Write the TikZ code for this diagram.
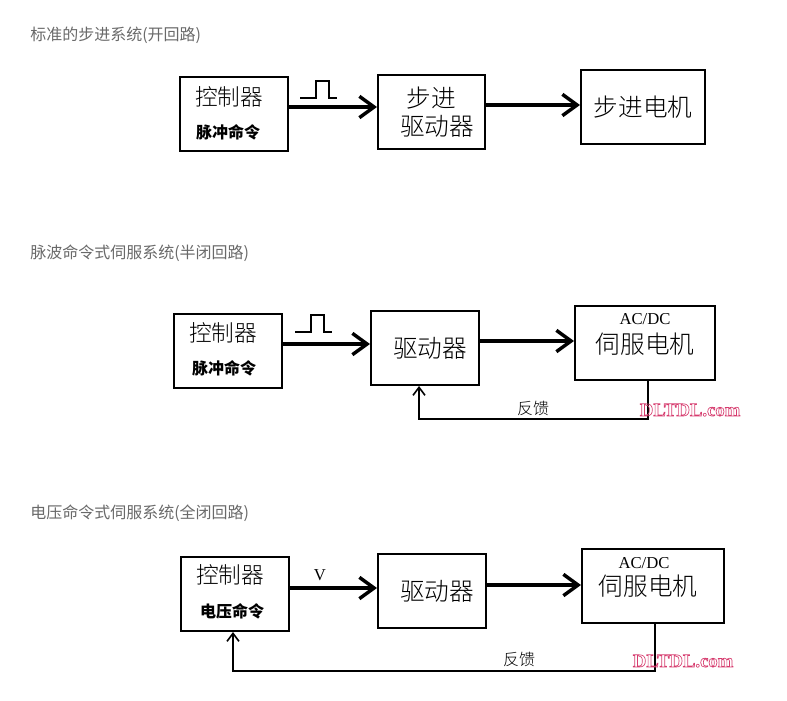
\documentclass[tikz,border=0pt]{standalone}
\usepackage{fontspec}
\usepackage{xcolor}
\usetikzlibrary{arrows.meta}
\setmainfont{Liberation Serif}
\newfontfamily\cjk{Noto Sans CJK SC}
\newfontfamily\cjklight{Noto Sans CJK SC Light}
\newfontfamily\wmfont{Liberation Serif}
\definecolor{mygrey}{RGB}{105,105,105}
\definecolor{mypink}{RGB}{214,60,110}
\newcommand{\hollow}[1]{\special{pdf:code 1 Tr 0.5 w}#1\special{pdf:code 0 Tr 1 w}}
\tikzset{
  block/.style={draw,line width=1.5pt,minimum width=#1,inner sep=0pt},
  flow/.style={line width=2.4pt,-{Straight Barb[length=11pt,width=16pt,line width=2.6pt]}},
  back/.style={line width=1.5pt,-{Straight Barb[length=6pt,width=9pt,line width=1.2pt]}},
  title/.style={anchor=west,inner sep=0pt,text=mygrey,font=\cjk\fontsize{12}{14}\selectfont},
  big/.style={inner sep=0pt,font=\cjklight\fontsize{17}{20}\selectfont},
  wide/.style={inner sep=0pt,font=\cjklight\fontsize{18.5}{22}\selectfont},
  small/.style={inner sep=0pt,font=\cjk\bfseries\fontsize{12}{14}\selectfont},
  note/.style={inner sep=0pt,font=\cjklight\fontsize{12}{14}\selectfont},
  latin/.style={inner sep=0pt,font=\fontsize{12.5}{14}\selectfont},
  mark text/.style={inner sep=0pt,text=mypink,font=\wmfont\bfseries\fontsize{14}{16}\selectfont},
  pulse/.style={line width=1.3pt}
}
\begin{document}
\begin{tikzpicture}[x=0.75pt,y=-0.75pt]
\useasboundingbox (0,0) rectangle (787,700);
% open loop
\node[title] (titleA) at (30,35) {标准的步进系统(开回路)};
\node[block=81pt,minimum height=55.5pt] (ctrlA) at (234,114) {};
\node[block=80.25pt,minimum height=55.5pt] (drvA) at (431.5,112) {};
\node[block=93pt,minimum height=55.5pt] (motorA) at (643,107) {};
\node[big] (ctrlTextA) at (229,97) {控制器};
\node[small] (cmdA) at (228,132) {脉冲命令};
\node[wide] (stepA) at (431,98) {步进};
\node[wide] (drvTextA) at (437,126) {驱动器};
\node[wide] (motorTextA) at (643,107) {步进电机};
\draw[flow] ([shift={(0,-7)}]ctrlA.east) -- ([shift={(0,-5)}]drvA.west);
\draw[flow] ([shift={(0,-7)}]drvA.east) -- ([shift={(0,-2)}]motorA.west);
\draw[pulse] (300,98) -- (316,98) -- (316,81) -- (329,81) -- (329,98) -- (337,98);
% semi closed loop
\node[title] (titleB) at (30,253) {脉波命令式伺服系统(半闭回路)};
\node[block=81pt,minimum height=55.5pt] (ctrlB) at (228,351) {};
\node[block=81pt,minimum height=55.5pt] (drvB) at (425,348) {};
\node[block=105pt,minimum height=55.5pt] (motorB) at (645,343) {};
\node[big] (ctrlTextB) at (223,333) {控制器};
\node[small] (cmdB) at (224,368) {脉冲命令};
\node[wide] (drvTextB) at (430,348) {驱动器};
\node[latin] (acdcB) at (645,319) {AC/DC};
\node[wide] (motorTextB) at (645,344) {伺服电机};
\node[note] (backTextB) at (533,408) {反馈};
\coordinate (cornerB) at (648,419);
\draw[flow] ([shift={(0,-7)}]ctrlB.east) -- ([shift={(0,-4)}]drvB.west);
\draw[flow] ([shift={(0,-7)}]drvB.east) -- ([shift={(0,-2)}]motorB.west);
\draw[pulse] (295,332) -- (311,332) -- (311,315) -- (324,315) -- (324,332) -- (332,332);
\draw[back] (cornerB |- motorB.south) -- (cornerB) -| (419,386);
\node[mark text] (markB) at (690,410) {\hollow{DLTDL.com}};
% fully closed loop
\node[title] (titleC) at (30,513) {电压命令式伺服系统(全闭回路)};
\node[block=81pt,minimum height=55.5pt] (ctrlC) at (235,594) {};
\node[block=81pt,minimum height=55.5pt] (drvC) at (432,591) {};
\node[block=106.5pt,minimum height=55.5pt] (motorC) at (653,586) {};
\node[big] (ctrlTextC) at (230,575) {控制器};
\node[small] (cmdC) at (232,611) {电压命令};
\node[wide] (drvTextC) at (437,591) {驱动器};
\node[latin] (acdcC) at (644,563) {AC/DC};
\node[wide] (motorTextC) at (648,586) {伺服电机};
\node[latin] (volt) at (320,575) {V};
\node[note] (backTextC) at (519,659) {反馈};
\coordinate (cornerC) at (655,671);
\draw[flow] ([shift={(0,-6)}]ctrlC.east) -- ([shift={(0,-3)}]drvC.west);
\draw[flow] ([shift={(0,-6)}]drvC.east) -- ([shift={(0,-1)}]motorC.west);
\draw[back] (cornerC |- motorC.south) -- (cornerC) -| (233,632);
\node[mark text] (markC) at (683,661) {\hollow{DLTDL.com}};
\end{tikzpicture}
\end{document}
